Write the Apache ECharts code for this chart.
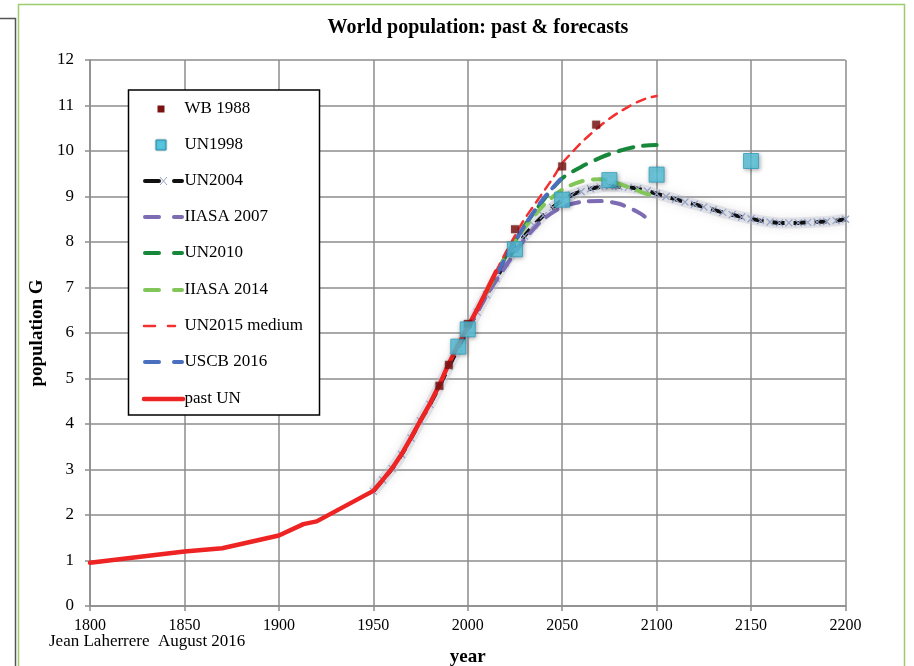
<!DOCTYPE html>
<html>
<head>
<meta charset="utf-8">
<script src="https://cdn.jsdelivr.net/npm/echarts@6/dist/echarts.min.js"></script>
<style>
  html, body { margin: 0; padding: 0; background: #fff; }
  #chart { width: 914px; height: 666px; }
</style>
</head>
<body>
<div id="chart"></div>
<script>
// World population, billions (G), by year
const pastUN = [[1800,0.95],[1850,1.2],[1870,1.27],[1900,1.55],[1913,1.8],[1920,1.86],[1950,2.53],[1955,2.77],[1960,3.03],[1965,3.34],[1970,3.7],[1975,4.08],[1980,4.45],[1985,4.86],[1990,5.33],[1995,5.74],[2000,6.13],[2005,6.52],[2010,6.93],[2015,7.35]];
const wb1988 = [[1985,4.84],[1990,5.3],[2000,6.2],[2025,8.28],[2050,9.66],[2068,10.58]];
const un1998 = [[1995,5.7],[2000,6.08],[2025,7.84],[2050,8.93],[2075,9.36],[2100,9.48],[2150,9.78]];
const un2004 = [[1950,2.52],[1955,2.77],[1960,3.02],[1965,3.33],[1970,3.69],[1975,4.07],[1980,4.43],[1985,4.83],[1990,5.26],[1995,5.67],[2000,6.07],[2005,6.46],[2010,6.84],[2015,7.2],[2020,7.54],[2025,7.85],[2030,8.13],[2035,8.37],[2040,8.58],[2045,8.76],[2050,8.92],[2055,9.03],[2060,9.11],[2065,9.17],[2070,9.21],[2075,9.23],[2080,9.22],[2085,9.2],[2090,9.17],[2095,9.12],[2100,9.06],[2105,9.0],[2110,8.94],[2115,8.88],[2120,8.83],[2125,8.77],[2130,8.71],[2135,8.65],[2140,8.6],[2145,8.55],[2150,8.51],[2155,8.47],[2160,8.44],[2165,8.42],[2170,8.42],[2175,8.42],[2180,8.43],[2185,8.44],[2190,8.45],[2195,8.47],[2200,8.5]];
const iiasa2007 = [[2000,6.08],[2010,6.82],[2020,7.46],[2030,8.05],[2040,8.5],[2050,8.77],[2060,8.88],[2070,8.9],[2080,8.84],[2090,8.66],[2095,8.52]];
const un2010 = [[2010,6.9],[2020,7.68],[2030,8.35],[2040,8.92],[2050,9.4],[2060,9.65],[2070,9.85],[2080,10.0],[2090,10.1],[2100,10.13]];
const iiasa2014 = [[2010,6.9],[2020,7.68],[2030,8.3],[2040,8.8],[2050,9.15],[2060,9.33],[2070,9.38],[2080,9.28],[2090,9.13],[2100,8.98]];
const un2015 = [[2015,7.35],[2020,7.76],[2025,8.14],[2030,8.5],[2035,8.8],[2040,9.1],[2045,9.4],[2050,9.73],[2055,9.96],[2060,10.18],[2065,10.37],[2070,10.55],[2075,10.71],[2080,10.85],[2085,10.97],[2090,11.08],[2095,11.16],[2100,11.21]];
const uscb2016 = [[2016,7.34],[2020,7.65],[2030,8.35],[2040,8.95],[2050,9.42]];

const legendNames = ['WB 1988','UN1998','UN2004','IIASA 2007','UN2010','IIASA 2014','UN2015 medium','USCB 2016','past UN'];

const C = {
  wb: '#7a1212', un98: '#56c6df', un98b: '#2f9cbd', un04: '#111111', cross: '#94a2c6',
  ii07: '#7d6bb3', un10: '#17873a', ii14: '#82c65a', un15: '#f23030', uscb: '#4a6fbf', past: '#ee2323'
};
const SERIF = '"Liberation Serif", "Times New Roman", serif';

const chart = echarts.init(document.getElementById('chart'), null, { renderer: 'canvas' });

function dashed(name, data, color, width, dash, z) {
  return {
    name, type: 'line', data, z, symbol: 'none', silent: true, smooth: 0.3,
    lineStyle: { color, width, type: dash, cap: 'round' }
  };
}

// Legend, drawn as a boxed list
const legendGraphics = [];
const LX = 128.5, LY = 90, LW = 191, LH = 325;
legendGraphics.push({ type: 'rect', shape: { x: LX, y: LY, width: LW, height: LH },
  style: { fill: '#fff', stroke: '#000', lineWidth: 1.5 }, z: 100 });
const rowY = [109, 145, 181, 217, 253, 290, 326, 362, 399];
const seg = (x1, x2, y, color, w) => ({ type: 'line', shape: { x1, y1: y, x2, y2: y },
  style: { stroke: color, lineWidth: w, lineCap: 'round' }, z: 101 });
legendGraphics.push({ type: 'rect', shape: { x: 157.5, y: rowY[0] - 3.5, width: 7, height: 7 }, style: { fill: C.wb }, z: 101 });
legendGraphics.push({ type: 'rect', shape: { x: 156, y: rowY[1] - 5, width: 10, height: 10 },
  style: { fill: C.un98, stroke: C.un98b, lineWidth: 1, shadowBlur: 2, shadowColor: 'rgba(0,0,0,0.3)' }, z: 101 });
const lineRows = [[2, C.un04, 4], [3, C.ii07, 4], [4, C.un10, 4], [5, C.ii14, 4], [7, C.uscb, 4]];
lineRows.forEach(([i, col, w]) => {
  legendGraphics.push(seg(145, 159, rowY[i], col, w));
  legendGraphics.push(seg(174, 182, rowY[i], col, w));
});
legendGraphics.push({ type: 'polyline', shape: { points: [[160, rowY[2] - 4], [167, rowY[2] + 4]] }, style: { stroke: C.cross, lineWidth: 1 }, z: 102 });
legendGraphics.push({ type: 'polyline', shape: { points: [[167, rowY[2] - 4], [160, rowY[2] + 4]] }, style: { stroke: C.cross, lineWidth: 1 }, z: 102 });
legendGraphics.push(seg(144, 155, rowY[6], C.un15, 2.5));
legendGraphics.push(seg(168, 175, rowY[6], C.un15, 2.5));
legendGraphics.push(seg(144, 183, rowY[8], C.past, 4.5));
legendNames.forEach((n, i) => {
  legendGraphics.push({ type: 'text', x: 184.5, y: rowY[i], z: 101,
    style: { text: n, font: '17px ' + SERIF, fill: '#000', textVerticalAlign: 'middle' } });
});

const axisCommon = {
  nameLocation: 'middle',
  nameTextStyle: { fontFamily: SERIF, fontWeight: 'bold', fontSize: 19, color: '#000' },
  axisLine: { show: true, lineStyle: { color: '#8c8c8c', width: 1.5 } },
  axisTick: { show: true, length: 5, lineStyle: { color: '#8c8c8c', width: 1.5 } },
  splitLine: { show: true, lineStyle: { color: '#8c8c8c', width: 1.5 } }
};

const option = {
  backgroundColor: '#ffffff',
  animation: false,
  grid: { left: 90, right: 68.5, top: 60, bottom: 60, containLabel: false, outerBoundsMode: 'none' },
  xAxis: Object.assign({
    type: 'value', min: 1800, max: 2200, interval: 50, name: 'year', nameGap: 42,
    axisLabel: { fontFamily: SERIF, fontSize: 16, color: '#000', margin: 12, formatter: v => String(v) }
  }, axisCommon),
  yAxis: Object.assign({
    type: 'value', min: 0, max: 12, interval: 1, name: 'population G', nameGap: 37,
    axisLabel: { fontFamily: SERIF, fontSize: 17, color: '#000', margin: 16, formatter: v => String(v) }
  }, axisCommon),
  graphic: [
    { type: 'rect', shape: { x: 18.5, y: 4.5, width: 886, height: 700 }, style: { fill: 'none', stroke: '#9ccc6c', lineWidth: 1.5 }, z: 1 },
    { type: 'polyline', shape: { points: [[0, 18.5], [15.5, 18.5], [15.5, 666]] }, style: { stroke: '#555', lineWidth: 1.5, fill: 'none' }, z: 1 },
    { type: 'text', x: 478, y: 28, z: 5,
      style: { text: 'World population: past & forecasts', font: 'bold 20px ' + SERIF, fill: '#000', textAlign: 'center', textVerticalAlign: 'middle' } },
    { type: 'text', x: 49, y: 642, z: 5,
      style: { text: 'Jean Laherrere  August 2016', font: '17px ' + SERIF, fill: '#000', textVerticalAlign: 'middle' } }
  ].concat(legendGraphics),
  series: [
    // soft grey glow around the UN2004 path
    { name: 'UN2004 halo', type: 'line', data: un2004, z: 2, symbol: 'none', silent: true, smooth: 0.3,
      lineStyle: { color: 'rgba(185,188,200,0.35)', width: 11, shadowBlur: 8, shadowColor: 'rgba(140,144,160,0.5)' } },
    { name: 'UN2004', type: 'line', data: un2004, z: 3, silent: true, smooth: 0.3,
      symbol: 'path://M0,0L10,10M10,0L0,10', symbolSize: 7,
      itemStyle: { color: 'rgba(0,0,0,0)', borderColor: C.cross, borderWidth: 1.2 },
      lineStyle: { color: C.un04, width: 4, type: [12, 9] } },
    dashed('IIASA 2007', iiasa2007, C.ii07, 4, [13, 10], 4),
    dashed('UN2010', un2010, C.un10, 4, [15, 10], 4),
    dashed('IIASA 2014', iiasa2014, C.ii14, 4, [13, 10], 4),
    dashed('UN2015 medium', un2015, C.un15, 2.5, [9, 7], 5),
    dashed('USCB 2016', uscb2016, C.uscb, 4, [12, 8], 5),
    { name: 'past UN', type: 'line', data: pastUN, z: 6, symbol: 'none', silent: true,
      lineStyle: { color: C.past, width: 4.5, cap: 'round', join: 'round' } },
    { name: 'WB 1988', type: 'scatter', data: wb1988, z: 7, symbol: 'rect', symbolSize: 8, silent: true,
      itemStyle: { color: C.wb, shadowBlur: 2, shadowColor: 'rgba(0,0,0,0.3)' } },
    { name: 'UN1998', type: 'scatter', data: un1998, z: 8, symbol: 'rect', symbolSize: 15, silent: true,
      itemStyle: { color: C.un98, borderColor: C.un98b, borderWidth: 1, shadowBlur: 4, shadowColor: 'rgba(0,0,0,0.35)', shadowOffsetX: 1, shadowOffsetY: 1 } }
  ]
};
chart.setOption(option);
</script>
</body>
</html>
